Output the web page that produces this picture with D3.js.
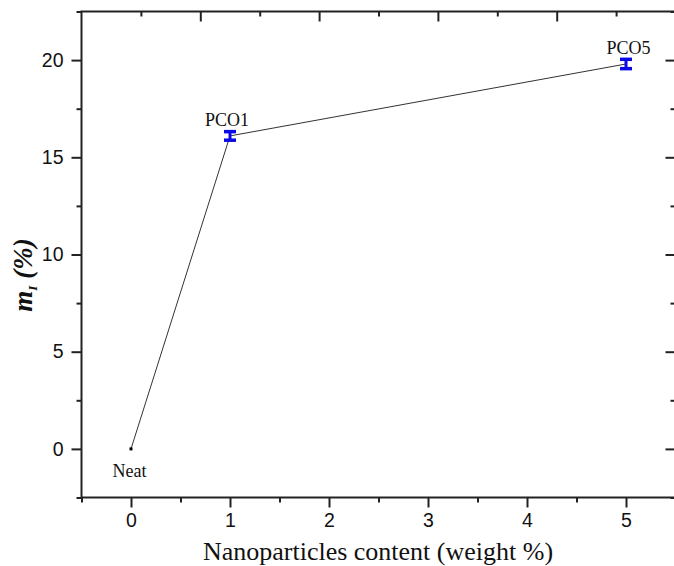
<!DOCTYPE html>
<html>
<head>
<meta charset="utf-8">
<script src="https://cdn.jsdelivr.net/npm/d3@7"></script>
<style>
  html, body { margin: 0; padding: 0; background: #fff; }
  svg { display: block; }
</style>
</head>
<body>
<svg id="chart" width="674" height="566"></svg>
<script>
// ---- data ----
const xContent = [0, 1, 5];
const mValues = [0, 16.1, 19.8];
const mErrors = [0, 0.22, 0.24];
const pointLabels = ["Neat", "PCO1", "PCO5"];
const xTickValues = [0, 1, 2, 3, 4, 5];
const yTickValues = [0, 5, 10, 15, 20];
const xTitle = "Nanoparticles content (weight %)";

const svg = d3.select("#chart");
const x = d3.scaleLinear().domain([-0.5, 5.5]).range([81.5, 675.5]);
const y = d3.scaleLinear().domain([-2.5, 22.5]).range([497.5, 11.5]);
const xTop = d3.scaleLinear().domain([0, 5]).range([81.5, 675.5]);

const axisColor = "#222";
const tickFont = "'Liberation Sans', Arial, sans-serif";
const serif = "'Liberation Serif', 'Times New Roman', serif";

function styleAxis(g) {
  g.select(".domain").remove();
  g.selectAll(".tick line").attr("stroke", axisColor).attr("stroke-width", 2);
  g.selectAll(".tick text").attr("fill", "#111").style("font-family", tickFont).style("font-size", "19.5px");
}

// bottom axis
const xMinor = d3.range(-0.5, 5.6, 0.5).filter(v => !xTickValues.includes(v));
svg.append("g").attr("transform", `translate(0,${y.range()[0]})`)
  .call(d3.axisBottom(x).tickValues(xTickValues).tickSize(10).tickPadding(6).tickFormat(d3.format("d")))
  .call(styleAxis);
svg.append("g").attr("transform", `translate(0,${y.range()[0]})`)
  .call(d3.axisBottom(x).tickValues(xMinor).tickSize(5).tickFormat(""))
  .call(styleAxis);

// left axis
const yMinor = d3.range(-2.5, 22.6, 2.5).filter(v => !yTickValues.includes(v));
svg.append("g").attr("transform", `translate(${x.range()[0]},0)`)
  .call(d3.axisLeft(y).tickValues(yTickValues).tickSize(10).tickPadding(8).tickFormat(d3.format("d")))
  .call(styleAxis);
svg.append("g").attr("transform", `translate(${x.range()[0]},0)`)
  .call(d3.axisLeft(y).tickValues(yMinor).tickSize(5).tickFormat(""))
  .call(styleAxis);

// right axis (inward ticks)
svg.append("g").attr("transform", `translate(${x.range()[1]},0)`)
  .call(d3.axisLeft(y).tickValues(yTickValues).tickSizeInner(10).tickFormat(""))
  .call(styleAxis);
svg.append("g").attr("transform", `translate(${x.range()[1]},0)`)
  .call(d3.axisLeft(y).tickValues(yMinor).tickSizeInner(5).tickFormat(""))
  .call(styleAxis);

// top axis (inward ticks, own scale)
const topMajor = [1, 2, 3, 4];
const topMinor = [0.5, 1.5, 2.5, 3.5, 4.5];
svg.append("g").attr("transform", `translate(0,${y.range()[1]})`)
  .call(d3.axisTop(xTop).tickValues(topMajor).tickSize(-10).tickFormat(""))
  .call(styleAxis);
svg.append("g").attr("transform", `translate(0,${y.range()[1]})`)
  .call(d3.axisTop(xTop).tickValues(topMinor).tickSize(-5).tickFormat(""))
  .call(styleAxis);

// frame
svg.append("rect")
  .attr("x", x.range()[0]).attr("y", y.range()[1])
  .attr("width", x.range()[1] - x.range()[0])
  .attr("height", y.range()[0] - y.range()[1])
  .attr("fill", "none").attr("stroke", axisColor).attr("stroke-width", 2);

// data
const pts = xContent.map((v, i) => ({ x: v, y: mValues[i], e: mErrors[i], label: pointLabels[i] }));

svg.append("path")
  .datum(pts)
  .attr("fill", "none")
  .attr("stroke", "#333")
  .attr("stroke-width", 1)
  .attr("d", d3.line().x(d => x(d.x)).y(d => y(d.y)));

// neat marker
svg.selectAll(".sq").data(pts.filter(d => d.e === 0)).enter().append("rect")
  .attr("x", d => x(d.x) - 1.5).attr("y", d => y(d.y) - 1.5)
  .attr("width", 3).attr("height", 3).attr("fill", "#000");

// error bars
const eb = svg.selectAll(".eb").data(pts.filter(d => d.e > 0)).enter().append("g");
const blue = "#0a0ae6";
eb.append("line")
  .attr("x1", d => x(d.x)).attr("x2", d => x(d.x))
  .attr("y1", d => y(d.y + d.e)).attr("y2", d => y(d.y - d.e))
  .attr("stroke", blue).attr("stroke-width", 3);
eb.append("line")
  .attr("x1", d => x(d.x) - 6).attr("x2", d => x(d.x) + 6)
  .attr("y1", d => y(d.y + d.e)).attr("y2", d => y(d.y + d.e))
  .attr("stroke", blue).attr("stroke-width", 3.5);
eb.append("line")
  .attr("x1", d => x(d.x) - 6).attr("x2", d => x(d.x) + 6)
  .attr("y1", d => y(d.y - d.e)).attr("y2", d => y(d.y - d.e))
  .attr("stroke", blue).attr("stroke-width", 3.5);

// point labels
svg.selectAll(".pl").data(pts).enter().append("text")
  .attr("x", d => x(d.x) + (d.e === 0 ? -1.5 : (d.x === 5 ? 2.5 : -3)))
  .attr("y", d => d.e === 0 ? y(d.y) + 28 : y(d.y) - 10)
  .attr("text-anchor", "middle")
  .style("font-family", serif).style("font-size", "18px").attr("fill", "#111")
  .text(d => d.label);

// x title
svg.append("text")
  .attr("x", 378).attr("y", 560)
  .attr("text-anchor", "middle")
  .style("font-family", serif).style("font-size", "26px").attr("fill", "#111")
  .text(xTitle);

// y title
const yt = svg.append("text")
  .attr("transform", "translate(32,275) rotate(-90)")
  .attr("text-anchor", "middle")
  .style("font-family", serif).style("font-size", "27px")
  .style("font-weight", "bold").style("font-style", "italic").attr("fill", "#111");
yt.append("tspan").text("m");
yt.append("tspan").attr("dy", 5).style("font-size", "13px").text("I");
yt.append("tspan").attr("dy", -5).text(" (%)");
</script>
</body>
</html>
